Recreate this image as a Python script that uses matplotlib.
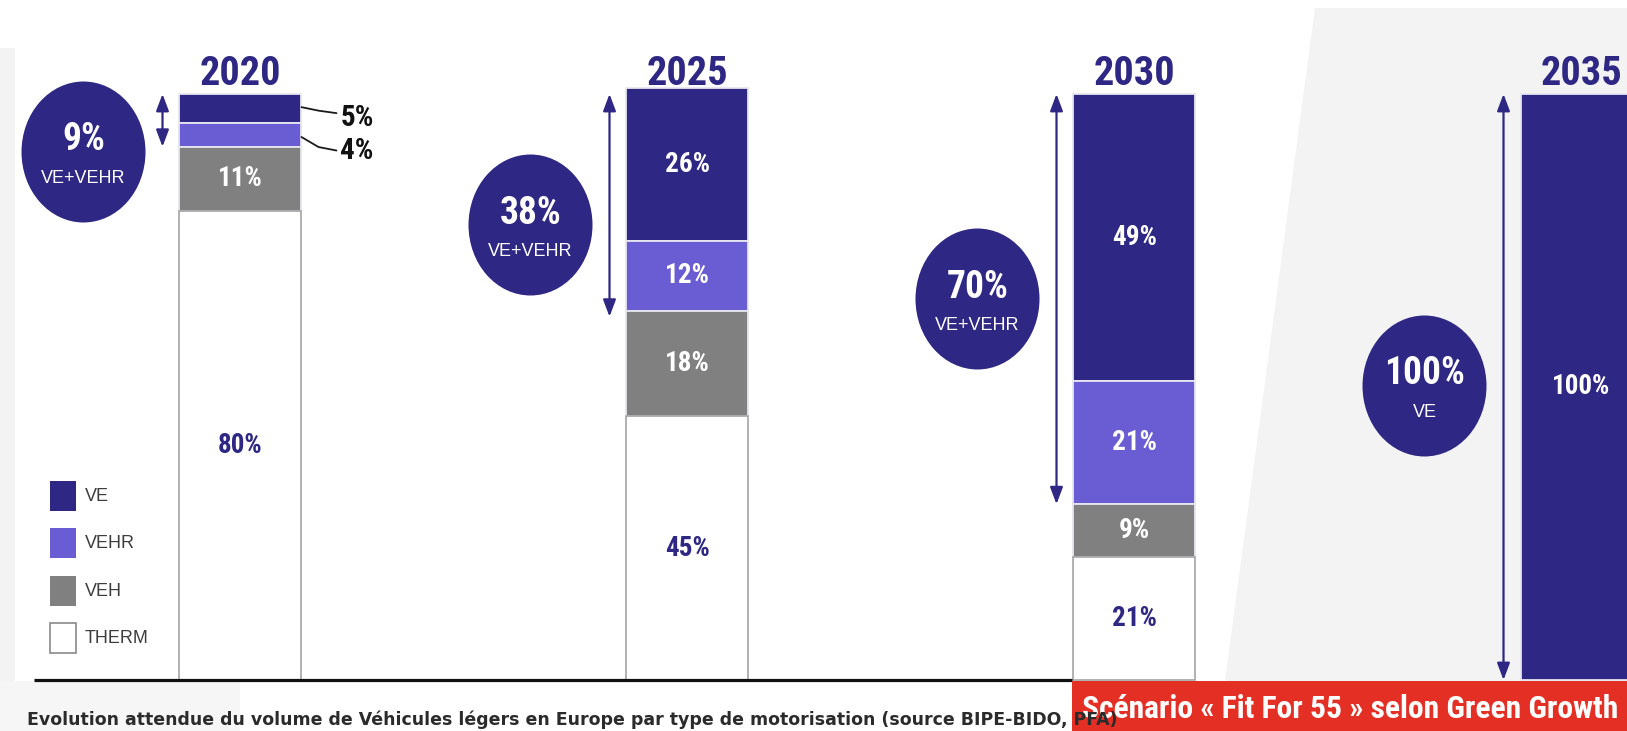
import numpy as np
import matplotlib
matplotlib.use("Agg")
import matplotlib.pyplot as plt
from matplotlib.patches import Ellipse, Rectangle, Polygon
from matplotlib import font_manager as fm
from matplotlib.font_manager import FontProperties

# ---- data -------------------------------------------------------------
years = ["2020", "2025", "2030", "2035"]
ve = [5, 26, 49, 100]
vehr = [4, 12, 21, 0]
veh = [11, 18, 9, 0]
therm = [80, 45, 21, 0]
series_names = ["VE", "VEHR", "VEH", "THERM"]
badge_labels = ["VE+VEHR", "VE+VEHR", "VE+VEHR", "VE"]
caption = ("Evolution attendue du volume de Véhicules légers en Europe "
           "par type de motorisation (source BIPE-BIDO, PFA)")
scenario = "Scénario « Fit For 55 » selon Green Growth"

# ---- style --------------------------------------------------------------
NAVY = "#2e2783"
LAVENDER = "#6a5cd2"
GREY = "#808080"
RED = "#e42f25"
colors = [NAVY, LAVENDER, GREY, "white"]
SANS = "Liberation Sans"


def _is_bold(f):
    w = f.weight
    if isinstance(w, str):
        return w in ("bold", "heavy", "black", "extra bold", "demibold", "semibold")
    return w >= 600


def condensed_bold_path():
    """Pick an installed bold condensed/narrow sans face, if any."""
    preferred = ["liberation sans narrow", "roboto condensed", "open sans condensed",
                 "noto sans", "dejavu sans", "arimo"]
    found = []
    for f in fm.fontManager.ttflist:
        n = f.name.lower()
        fn = f.fname.lower()
        narrow = ("narrow" in n or "condensed" in n or "narrow" in fn or "condensed" in fn
                  or f.stretch in ("condensed", "semi-condensed", "extra-condensed"))
        if not narrow or not _is_bold(f) or f.style != "normal":
            continue
        if "mono" in n or "serif" in n.replace("sans serif", "") or "semi" in fn \
                or "extra" in fn or "ultra" in fn:
            continue
        rank = next((k for k, p in enumerate(preferred) if n.startswith(p)), len(preferred))
        found.append((rank, f.fname))
    found.sort()
    return found[0][1] if found else None


_cond = condensed_bold_path()


def cfont(size):
    if _cond:
        return FontProperties(fname=_cond, size=size)
    return FontProperties(family=SANS, weight="bold", size=size)


# ---- canvas: one axes over the whole figure, pixel-aligned -------------
W, H = 1627, 731
X0, DX = 240.5, 447.0      # centre of first bar, spacing between bars (px)
BASE, PXU = 680.0, 5.86    # baseline row (px), pixels per percentage point


def px(x):
    return (x - X0) / DX


def py(y):
    return (BASE - y) / PXU


fig = plt.figure(figsize=(W / 100, H / 100), dpi=100)
fig.patch.set_facecolor("white")
ax = fig.add_axes([0, 0, 1, 1])
ax.set_xlim(px(0), px(W))
ax.set_ylim(py(H), py(0))
ax.axis("off")

# faint slide background shapes
bg = "#f3f3f4"
ax.add_patch(Polygon([(px(0), py(48)), (px(15), py(48)), (px(15), py(H)), (px(0), py(H))],
                     closed=True, fc=bg, ec="none", zorder=0))
ax.add_patch(Polygon([(px(0), py(681)), (px(240), py(681)), (px(240), py(H)), (px(0), py(H))],
                     closed=True, fc="#f6f6f6", ec="none", zorder=0))
ax.add_patch(Polygon([(px(1315), py(8)), (px(W), py(8)), (px(W), py(681)),
                      (px(1225), py(681))],
                     closed=True, fc=bg, ec="none", zorder=0))

# ---- stacked bars ---------------------------------------------------------
x = np.arange(len(years))
bw = 122 / DX
stack_top_down = [ve, vehr, veh, therm]
bottoms_therm = np.zeros(len(years))
bottoms_veh = bottoms_therm + np.array(therm)
bottoms_vehr = bottoms_veh + np.array(veh)
bottoms_ve = bottoms_vehr + np.array(vehr)
bottoms = [bottoms_ve, bottoms_vehr, bottoms_veh, bottoms_therm]

for vals, bot, col, name in zip(stack_top_down, bottoms, colors, series_names):
    vals = np.array(vals, dtype=float)
    if name == "THERM":
        ec, lw = "#9c9c9c", [1.1 if v > 0 else 0 for v in vals]
    else:
        ec, lw = "#e6e6f0", [1.3 if v > 0 else 0 for v in vals]
    ax.bar(x, vals, bw, bottom=bot, color=col, edgecolor=ec, linewidth=lw, zorder=2)

# segment labels
for i in range(len(years)):
    for vals, bot, name in zip(stack_top_down, bottoms, series_names):
        v = vals[i]
        if v >= 6:
            yc = bot[i] + v / 2
            ax.text(x[i], yc, f"{v}%", ha="center", va="center",
                    color=NAVY if name == "THERM" else "white",
                    fontproperties=cfont(19.5), zorder=4)

# small segments are labelled outside with leader lines
callouts = {"VE": (-1.5, 2.0, 4.5, 9.5), "VEHR": (2.0, 12.0, 15.5, 15.5)}
for vals, bot, name in zip(stack_top_down, bottoms, series_names):
    for i in range(len(years)):
        v = vals[i]
        if 0 < v < 6:
            mid_px = BASE - (bot[i] + v / 2) * PXU
            a, b, c, t = callouts[name]
            xe = X0 + i * DX + bw * DX / 2
            ax.plot([px(xe), px(xe + 17), px(xe + 35)],
                    [py(mid_px + a), py(mid_px + b), py(mid_px + c)],
                    color="#1a1a1a", lw=1.3, zorder=3, solid_capstyle="round")
            ax.text(px(xe + 39), py(mid_px + t), f"{v}%", ha="left", va="center",
                    color="#111111", fontproperties=cfont(21), zorder=4)

# year titles
for i, yr in enumerate(years):
    ax.text(x[i], py(85), yr, ha="center", va="baseline", color=NAVY,
            fontproperties=cfont(29), zorder=4)

# ---- VE+VEHR badges and span arrows --------------------------------------
badge_y_px = [152, 225, 299, 386]
badge_dx_px = -157
for i in range(len(years)):
    share = ve[i] + vehr[i]
    cx = x[i] + badge_dx_px / DX
    cy = py(badge_y_px[i])
    ax.add_patch(Ellipse((cx, cy), 124 / DX, 141 / PXU, fc=NAVY, ec="none", zorder=3))
    ax.text(cx, py(badge_y_px[i] - 12), f"{share}%", ha="center", va="center",
            color="white", fontproperties=cfont(27), zorder=4)
    ax.text(cx, py(badge_y_px[i] + 26.5), badge_labels[i], ha="center", va="center",
            color="white", fontsize=13, family=SANS, zorder=4)

    ax_x = x[i] - bw / 2 - 17 / DX
    ax.annotate("", xy=(ax_x, 100 - share), xytext=(ax_x, 100),
                arrowprops=dict(arrowstyle="<|-|>,head_length=0.85,head_width=0.32",
                                mutation_scale=12, color=NAVY, lw=1.6,
                                shrinkA=0, shrinkB=0), zorder=3)

# ---- legend ----------------------------------------------------------------
for k, (name, col) in enumerate(zip(series_names, colors)):
    top = 481 + k * 47.3
    ec = "#8a8a8a" if name == "THERM" else "none"
    ax.add_patch(Rectangle((px(50), py(top + 30)), 26 / DX, 30 / PXU,
                           fc=col, ec=ec, lw=1.2, zorder=3))
    ax.text(px(85), py(top + 15.5), name, ha="left", va="center",
            color="#3d3d3d", fontsize=13, family=SANS, zorder=4)

# ---- baseline, scenario banner and caption --------------------------------
ax.plot([px(34), px(1072)], [0, 0], color="#111111", lw=2.3, zorder=3,
        solid_capstyle="butt")
ax.add_patch(Rectangle((px(1072), py(H)), px(W) - px(1072), py(681) - py(H),
                       fc=RED, ec="none", zorder=3))
ban = ax.text(px(1082), py(718), scenario, ha="left", va="baseline", color="white",
              fontproperties=cfont(23), zorder=4)

cap = ax.text(px(27), py(725), caption, ha="left", va="baseline", color="#2b2b2b",
              fontsize=12, fontweight="bold", family="DejaVu Sans", zorder=5)

# fit the two long lines to their widths
fig.canvas.draw()
r = fig.canvas.get_renderer()
w_cap = cap.get_window_extent(r).width
cap.set_fontsize(12 * 1087 / w_cap)
w_ban = ban.get_window_extent(r).width
if w_ban > 538:
    ban.set_fontsize(23 * 538 / w_ban)

fig.savefig("out.png", dpi=100, facecolor="white")
